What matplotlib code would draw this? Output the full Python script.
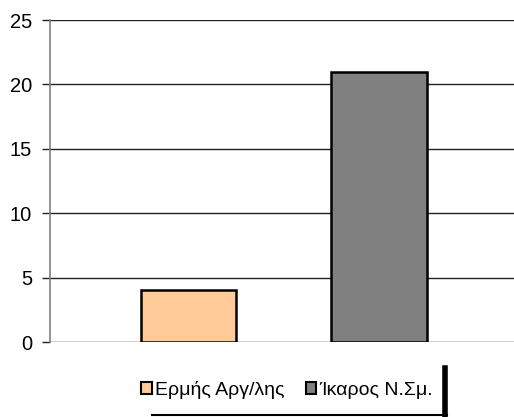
import matplotlib
matplotlib.use("Agg")
import matplotlib.pyplot as plt
from matplotlib.patches import Patch
from matplotlib.lines import Line2D

series = ["Ερμής Αργ/λης", "Ίκαρος Ν.Σμ."]
values = [4, 21]
colors = ["#FFCC99", "#808080"]
yticks = [0, 5, 10, 15, 20, 25]

plt.rcParams['font.family'] = ['Liberation Sans', 'DejaVu Sans']

W, H = 514, 417
fig = plt.figure(figsize=(W/100, H/100), dpi=100)
ax = fig.add_axes([50/W, (H-342)/H, (W-50)/W, (342-20)/H])

positions = [0, 1]
for p, v, c in zip(positions, values, colors):
    ax.bar(p, v, width=0.5, color=c, edgecolor='black', linewidth=1.8, zorder=3)

ax.set_ylim(0, 25)
ax.set_xlim(-0.727, 1.709)
ax.set_yticks(yticks)
ax.set_yticklabels([str(t) for t in yticks], fontsize=14.5)
ax.set_xticks([])
ax.yaxis.grid(True, color='#222222', linewidth=1.0, zorder=0)
for s in ['top', 'right', 'bottom']:
    ax.spines[s].set_visible(False)
ax.spines['left'].set_color('#808080')
ax.spines['left'].set_linewidth(1.2)
ax.tick_params(axis='y', length=6, width=1.0, color='#222222', pad=7)

handles = [Patch(facecolor=c, edgecolor='black', linewidth=1.5) for c in colors]
leg = fig.legend(handles, series, loc='center', bbox_to_anchor=(287/W, 1-390/H),
                 ncol=2, frameon=False, fontsize=14, handlelength=0.55, handleheight=0.55,
                 handletextpad=0.15, columnspacing=1.1)

# legend decorative lines
fig.add_artist(Line2D([152/W, 447/W], [1-415/H, 1-415/H], color='black', linewidth=1.5,
                      transform=fig.transFigure))
fig.add_artist(Line2D([445/W, 445/W], [1-368/H, 1-417/H], color='black', linewidth=4,
                      transform=fig.transFigure))

fig.savefig("out.png", dpi=100)
